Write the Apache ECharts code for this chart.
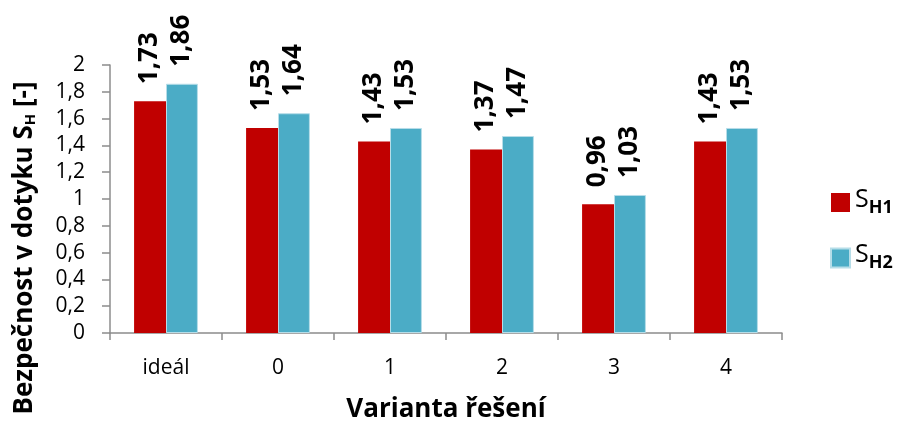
<!DOCTYPE html>
<html>
<head>
<meta charset="utf-8">
<script src="https://cdn.jsdelivr.net/npm/echarts@6/dist/echarts.min.js"></script>
<style>
  html, body { margin: 0; padding: 0; background: #fff; }
  #chart { width: 911px; height: 428px; }
</style>
</head>
<body>
<div id="chart"></div>
<script>
// Contact safety factor per design variant
const categories = ['ideál', '0', '1', '2', '3', '4'];
const sH1 = [1.73, 1.53, 1.43, 1.37, 0.96, 1.43];
const sH2 = [1.86, 1.64, 1.53, 1.47, 1.03, 1.53];
const seriesNames = ['SH1', 'SH2'];

const FONT = '"Open Sans", "Noto Sans", sans-serif';
const comma = v => String(v).replace('.', ',');
const fmtVal = v => Number(v).toFixed(2).replace('.', ',');

const chart = echarts.init(document.getElementById('chart'), null, { renderer: 'canvas' });

const barLabel = {
  show: true,
  position: 'top',
  rotate: 90,
  align: 'left',
  verticalAlign: 'middle',
  distance: 17,
  color: '#000',
  fontFamily: FONT,
  fontWeight: 'bold',
  fontSize: 26,
  formatter: p => fmtVal(p.value)
};

chart.setOption({
  animation: false,
  backgroundColor: '#fff',
  grid: { left: 110, right: 129, top: 65, bottom: 93 },
  legend: {
    orient: 'vertical',
    left: 825,
    top: 182,
    padding: 5,
    itemWidth: 19,
    itemHeight: 19,
    itemGap: 26,
    icon: 'rect',
    formatter: name => '{s|S}{sub|' + name.slice(1) + '}',
    textStyle: {
      rich: {
        s: { fontFamily: FONT, fontSize: 25, color: '#000', padding: [0, 0, 6, 0] },
        sub: { fontFamily: FONT, fontSize: 18, fontWeight: 'bold', color: '#000', padding: [10, 0, 0, 0] }
      }
    }
  },
  xAxis: {
    type: 'category',
    data: categories,
    name: 'Varianta řešení',
    nameLocation: 'middle',
    nameGap: 64,
    nameTextStyle: { fontFamily: FONT, fontSize: 26, fontWeight: 'bold', color: '#000' },
    axisLine: { lineStyle: { color: '#8c8c8c', width: 1.5 } },
    axisTick: { show: true, length: 7, lineStyle: { color: '#8c8c8c', width: 1.5 } },
    axisLabel: { fontFamily: FONT, fontSize: 21, color: '#000', margin: 25 }
  },
  yAxis: {
    type: 'value',
    min: 0,
    max: 2,
    interval: 0.2,
    name: '{t|Bezpečnost v dotyku S}{h|H}{t| [-]}',
    nameLocation: 'middle',
    nameRotate: 90,
    nameGap: 72,
    nameTextStyle: {
      padding: [0, 98, 0, 0],
      rich: {
        t: { fontFamily: FONT, fontSize: 26, fontWeight: 'bold', color: '#000' },
        h: { fontFamily: FONT, fontSize: 15, fontWeight: 'bold', color: '#000', padding: [12, 0, 0, 0] }
      }
    },
    splitLine: { show: false },
    axisLine: { show: true, lineStyle: { color: '#8c8c8c', width: 1.5 } },
    axisTick: { show: true, length: 8, lineStyle: { color: '#8c8c8c', width: 1.5 } },
    axisLabel: {
      fontFamily: FONT, fontSize: 21, color: '#000', margin: 25,
      formatter: v => comma(Math.round(v * 10) / 10)
    }
  },
  series: [
    {
      name: seriesNames[0],
      type: 'bar',
      data: sH1,
      barGap: '0%',
      barCategoryGap: '43%',
      itemStyle: { color: '#c00000' },
      label: barLabel
    },
    {
      name: seriesNames[1],
      type: 'bar',
      data: sH2,
      barGap: '0%',
      barCategoryGap: '43%',
      itemStyle: { color: '#4bacc6', borderColor: '#b6dde8', borderWidth: 1 },
      label: barLabel
    }
  ]
});
</script>
</body>
</html>
